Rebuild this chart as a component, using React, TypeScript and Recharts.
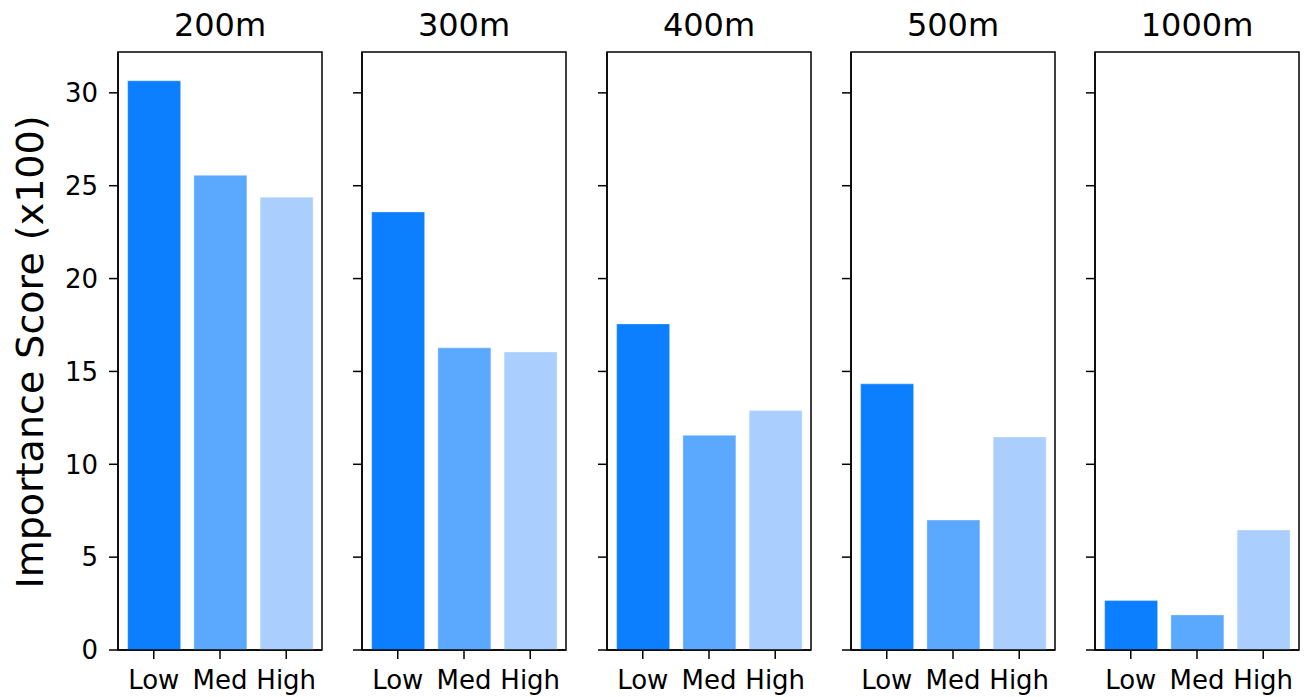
import React from 'react';
import { BarChart, Bar, XAxis, YAxis, Cell, ReferenceArea } from 'recharts';

const categories = ['Low', 'Med', 'High'];
const panelTitles = ['200m', '300m', '400m', '500m', '1000m'];
const lowValues = [30.65, 23.59, 17.56, 14.33, 2.66];
const medValues = [25.56, 16.27, 11.56, 7.0, 1.89];
const highValues = [24.38, 16.05, 12.89, 11.47, 6.46];
const yTicks = [0, 5, 10, 15, 20, 25, 30];
const xTicks = [0, 1, 2];
const xMin = -0.54;
const xMax = 2.54;
const yMax = 32.2;
const barColors = ['#0b7fff', '#5ba8ff', '#aacfff'];
const yLabel = 'Importance Score (x100)';

const FONT = '"DejaVu Sans", sans-serif';
const PLOT_W = 204;
const Y_AXIS_W = 60;
const PANEL_STEP = 244.25;
const FIRST_LEFT = 118;

function Panel({ index }: { index: number }) {
  const data = categories.map((c, k) => ({
    idx: k,
    cat: c,
    value: [lowValues, medValues, highValues][k][index],
  }));
  const left = Math.round(FIRST_LEFT + PANEL_STEP * index) - Y_AXIS_W;
  const showLabels = index === 0;
  return (
    <div style={{ position: 'absolute', left, top: 0 }}>
      <BarChart
        width={Y_AXIS_W + PLOT_W + 2}
        height={697}
        data={data}
        margin={{ top: 52, right: 2, bottom: 0, left: 0 }}
      >
        <XAxis
          dataKey="idx"
          type="number"
          domain={[xMin, xMax]}
          ticks={xTicks}
          allowDataOverflow
          height={47}
          axisLine={{ stroke: '#000', strokeWidth: 1.5 }}
          tickLine={{ stroke: '#000', strokeWidth: 1.5 }}
          tickSize={9}
          tickMargin={12}
          tick={{ fill: '#000', fontSize: 26, fontFamily: FONT }}
          tickFormatter={(v: number) => categories[v] ?? ''}
          interval={0}
        />
        <YAxis
          width={Y_AXIS_W}
          domain={[0, yMax]}
          ticks={yTicks}
          axisLine={{ stroke: '#000', strokeWidth: 1.5 }}
          tickLine={{ stroke: '#000', strokeWidth: 1.5 }}
          tickSize={9}
          tickMargin={11}
          tick={{ fill: '#000', fontSize: 26, fontFamily: FONT }}
          tickFormatter={(v: number) => (showLabels ? String(v) : '')}
          allowDataOverflow
        />
        <Bar
          dataKey="value"
          barSize={53}
          isAnimationActive={false}
          stroke="#ffffff"
          strokeOpacity={0.35}
          strokeWidth={1}
        >
          {data.map((d, k) => (
            <Cell key={d.cat} fill={barColors[k]} />
          ))}
        </Bar>
        <ReferenceArea
          x1={xMin}
          x2={xMax}
          y1={0}
          y2={yMax}
          fill="none"
          fillOpacity={0}
          stroke="#000"
          strokeWidth={1.5}
          strokeOpacity={1}
          ifOverflow="visible"
          label={{
            value: panelTitles[index],
            position: 'top',
            offset: 16,
            fill: '#000',
            fontSize: 32,
            fontFamily: FONT,
          }}
        />
      </BarChart>
    </div>
  );
}

export default function App() {
  return (
    <div
      style={{
        position: 'absolute',
        left: 0,
        top: 0,
        width: 1310,
        height: 697,
        background: '#fff',
        overflow: 'hidden',
      }}
    >
      {panelTitles.map((t, i) => (
        <Panel key={t} index={i} />
      ))}
      <svg
        width={80}
        height={697}
        style={{ position: 'absolute', left: 0, top: 0 }}
      >
        <text
          x={43}
          y={352}
          transform="rotate(-90, 43, 352)"
          textAnchor="middle"
          fontFamily={FONT}
          fontSize={38}
          fill="#000"
        >
          {yLabel}
        </text>
      </svg>
    </div>
  );
}
